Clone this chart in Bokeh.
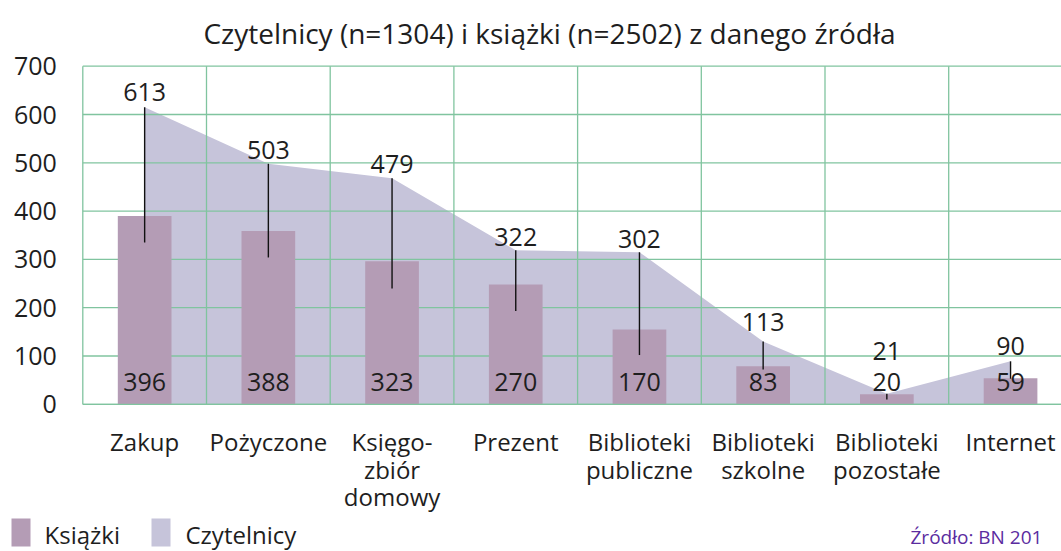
from bokeh.plotting import figure
from bokeh.models import ColumnDataSource, Range1d
from bokeh.core.properties import value
from bokeh.embed import file_html
from bokeh.resources import INLINE

# ---------------- data ----------------
kategorie = ["Zakup", "Pożyczone", "Księgo-\nzbiór\ndomowy", "Prezent",
             "Biblioteki\npubliczne", "Biblioteki\nszkolne",
             "Biblioteki\npozostałe", "Internet"]
ksiazki = [396, 388, 323, 270, 170, 83, 20, 59]            # printed values (books)
czytelnicy = [613, 503, 479, 322, 302, 113, 21, 90]        # printed values (readers)
ksiazki_slupek = [390, 359, 296, 248, 155, 79, 21, 54]     # bar heights as drawn
czytelnicy_pole = [615, 498, 468, 319, 315, 130, 22, 89]   # area heights as drawn
linia_dol = [335, 304, 240, 193, 102, 72, 10, 53]          # lower ends of leader lines
y_ticks = [0, 100, 200, 300, 400, 500, 600, 700]
tytul = "Czytelnicy (n=1304) i książki (n=2502) z danego źródła"
legenda = ["Książki", "Czytelnicy"]
zrodlo = "Źródło: BN 201"

# ---------------- styling / layout (pixels) ----------------
FONT = "Open Sans"
FS = "24px"
FSN = "25px"
TXT = "#1e1e1e"
BAR = "#b49cb5"
AREA = "#c6c4da"
GRID = "#80c49f"
SRC = "#5b2c9f"

W, H = 1061, 551
PX0, PY0 = 82.3, 403.8      # pixel position of (x=0, y=0)
CAT_W = 123.7               # pixels per category
YMAX = y_ticks[-1]
U = YMAX / 338.1            # data units per pixel (vertical)
odstep = [15, 14, 14, 13, 13, 20, 43, 15]   # px gap of top labels above area


def dx(px):
    return (px - PX0) / CAT_W


def dy(py):
    return (PY0 - py) * U


n = len(kategorie)
xs = [i + 0.5 for i in range(n)]
src = ColumnDataSource(dict(x=xs, ks=ksiazki_slupek, cz=czytelnicy_pole,
                            dol=linia_dol, kat=kategorie,
                            ks_t=[str(v) for v in ksiazki],
                            cz_t=[str(v) for v in czytelnicy],
                            off=[-o for o in odstep]))

p = figure(width=W, height=H, output_backend="svg", toolbar_location=None,
           x_range=Range1d(dx(0), dx(W)), y_range=Range1d(dy(H), dy(0)),
           x_axis_type=None, y_axis_type=None,
           min_border_left=0, min_border_right=0, min_border_top=0,
           min_border_bottom=0)
p.outline_line_color = None

# area (readers) below the grid
p.varea(x="x", y1=0, y2="cz", source=src, fill_color=AREA)

# grid
p.segment(x0=0, x1=n, y0=y_ticks, y1=y_ticks, line_color=GRID, line_width=1.3)
p.segment(x0=list(range(n + 1)), x1=list(range(n + 1)), y0=0, y1=YMAX,
          line_color=GRID, line_width=1.3)

# bars (books)
p.vbar(x="x", top="ks", width=0.434, bottom=0, source=src,
       fill_color=BAR, line_color=None)
p.segment(x0=0, x1=n, y0=0, y1=0, line_color=GRID, line_width=1.3)

# leader lines
p.segment(x0="x", y0="dol", x1="x", y1="cz", source=src,
          line_color="#111111", line_width=1.4)

# value labels
p.text(x="x", y="cz", text="cz_t", source=src, y_offset="off",
       text_font=value(FONT), text_font_size=FSN, text_color=TXT,
       text_align="center", text_baseline="middle")
p.text(x="x", y=0, text="ks_t", source=src, y_offset=-22,
       text_font=value(FONT), text_font_size=FSN, text_color=TXT,
       text_align="center", text_baseline="middle")

# y tick labels
p.text(x=0, y=y_ticks, text=[str(t) for t in y_ticks], x_offset=-26,
       text_font=value(FONT), text_font_size=FSN, text_color=TXT,
       text_align="right", text_baseline="middle")

# category labels
p.text(x="x", y=0, text="kat", source=src, y_offset=21,
       text_font=value(FONT), text_font_size=FS, text_color=TXT,
       text_align="center", text_baseline="top", text_line_height=0.83)

# title
p.text(x=0, y=YMAX, text=[tytul], x_offset=549 - PX0, y_offset=-(65.7 - 33),
       text_font=value(FONT), text_font_size="28px", text_color=TXT,
       text_align="center", text_baseline="middle")

# legend
leg = ColumnDataSource(dict(l=[dx(11), dx(151)], r=[dx(30), dx(170)],
                            b=[dy(546), dy(546)], t=[dy(518), dy(518)],
                            c=[BAR, AREA], tx=[dx(44), dx(185)],
                            ty=[dy(533.5), dy(533.5)], txt=legenda))
p.quad(left="l", right="r", bottom="b", top="t", fill_color="c", line_color=None,
       source=leg)
p.text(x="tx", y="ty", text="txt", source=leg, text_font=value(FONT),
       text_font_size=FS, text_color=TXT, text_align="left",
       text_baseline="middle")

# source
p.text(x=[dx(910)], y=[dy(536.5)], text=[zrodlo], text_font=value(FONT),
       text_font_size="19px", text_color=SRC, text_align="left",
       text_baseline="middle")

open("out.html", "w").write(file_html(p, INLINE))
